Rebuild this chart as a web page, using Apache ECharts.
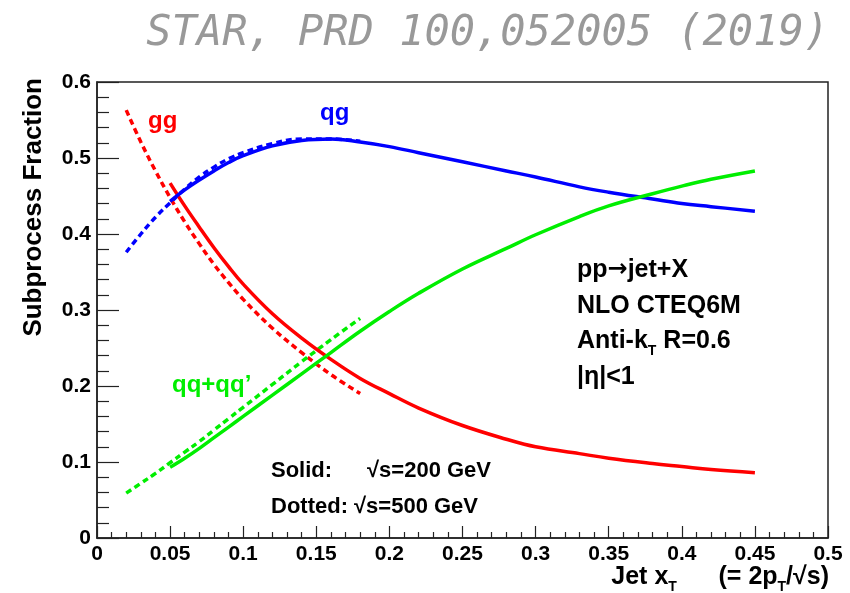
<!DOCTYPE html>
<html>
<head>
<meta charset="utf-8">
<script src="https://cdn.jsdelivr.net/npm/echarts@6/dist/echarts.min.js"></script>
<style>
  html, body { margin: 0; padding: 0; background: #fff; }
  #main { width: 850px; height: 593px; }
</style>
</head>
<body>
<div id="main"></div>
<script>
// sqrt(s) = 200 GeV curves (solid)
const x200 = [0.05, 0.06, 0.07, 0.08, 0.09, 0.10, 0.12, 0.14, 0.16, 0.18, 0.20, 0.22, 0.25, 0.28, 0.30, 0.33, 0.35, 0.38, 0.40, 0.42, 0.45]
const gg200 = [0.467, 0.437, 0.409, 0.382, 0.357, 0.334, 0.295, 0.263, 0.235, 0.210, 0.190, 0.171, 0.148, 0.130, 0.120, 0.111, 0.105, 0.098, 0.094, 0.090, 0.086]
const qg200 = [0.443, 0.458, 0.471, 0.483, 0.494, 0.503, 0.516, 0.523, 0.525, 0.521, 0.515, 0.507, 0.495, 0.483, 0.475, 0.462, 0.455, 0.446, 0.440, 0.436, 0.430]
const qq200 = [0.093, 0.105, 0.118, 0.132, 0.146, 0.160, 0.188, 0.216, 0.244, 0.272, 0.298, 0.322, 0.354, 0.381, 0.399, 0.423, 0.437, 0.453, 0.463, 0.472, 0.483]

// sqrt(s) = 500 GeV curves (dotted)
const x500 = [0.02, 0.03, 0.04, 0.05, 0.06, 0.07, 0.08, 0.09, 0.10, 0.12, 0.14, 0.16, 0.18]
const gg500 = [0.563, 0.521, 0.483, 0.448, 0.416, 0.387, 0.360, 0.336, 0.314, 0.276, 0.244, 0.215, 0.190]
const qg500 = [0.376, 0.400, 0.422, 0.441, 0.459, 0.475, 0.488, 0.499, 0.507, 0.519, 0.525, 0.525, 0.522]
const qq500 = [0.059, 0.072, 0.085, 0.099, 0.113, 0.127, 0.142, 0.157, 0.172, 0.202, 0.232, 0.261, 0.289]

const RED = '#ff0000'
const BLUE = '#0000ff'
const GREEN = '#00ee00'
const FONT = '"Liberation Sans", Arial, Helvetica, sans-serif'

const pairs = (xs, ys) => xs.map((x, i) => [x, ys[i]])

const curve = (name, xs, ys, color, dotted) => ({
  name,
  type: 'line',
  data: pairs(xs, ys),
  showSymbol: false,
  smooth: 0.4,
  silent: true,
  lineStyle: { color, width: 3.5, type: dotted ? [6, 4] : 'solid', cap: 'butt' },
  z: dotted ? 3 : 4
})

// text placed by its left edge and vertical middle
const txt = (x, y, text, opts = {}) => ({
  type: 'text',
  x, y,
  style: Object.assign({
    text,
    fill: '#000',
    font: 'bold 24px ' + FONT,
    textAlign: 'left',
    textVerticalAlign: 'middle'
  }, opts)
})

const subRich = {
  sub: { fontSize: 14, fontWeight: 'bold', fontFamily: FONT, lineHeight: 14, padding: [20, 0, 0, 0] },
  arr: { fontSize: 24, fontWeight: 'bold', fontFamily: '"DejaVu Sans", sans-serif' }
}

const option = {
  backgroundColor: '#fff',
  animation: false,
  grid: { left: 97, right: 22, top: 82, bottom: 55, show: true, borderColor: '#222', borderWidth: 1.5, backgroundColor: '#fff' },
  xAxis: {
    type: 'value',
    min: 0,
    max: 0.5,
    interval: 0.05,
    axisLine: { show: true, onZero: false, lineStyle: { color: '#222', width: 1.5 } },
    axisTick: { show: true, inside: true, length: 12, lineStyle: { color: '#222', width: 1.2 } },
    minorTick: { show: true, splitNumber: 5, length: 6, lineStyle: { color: '#222', width: 1.2 } },
    splitLine: { show: false },
    axisLabel: {
      color: '#000', fontFamily: FONT, fontWeight: 'bold', fontSize: 21, margin: 6,
      formatter: v => String(+v.toFixed(2))
    }
  },
  yAxis: {
    type: 'value',
    min: 0,
    max: 0.6,
    interval: 0.1,
    axisLine: { show: true, onZero: false, lineStyle: { color: '#222', width: 1.5 } },
    axisTick: { show: true, inside: true, length: 22, lineStyle: { color: '#222', width: 1.2 } },
    minorTick: { show: true, splitNumber: 5, length: 12, lineStyle: { color: '#222', width: 1.2 } },
    splitLine: { show: false },
    axisLabel: {
      color: '#000', fontFamily: FONT, fontWeight: 'bold', fontSize: 21, margin: 6,
      formatter: v => String(+v.toFixed(1))
    }
  },
  series: [
    curve('gg 500', x500, gg500, RED, true),
    curve('qg 500', x500, qg500, BLUE, true),
    curve('qq 500', x500, qq500, GREEN, true),
    curve('gg 200', x200, gg200, RED, false),
    curve('qg 200', x200, qg200, BLUE, false),
    curve('qq 200', x200, qq200, GREEN, false)
  ],
  graphic: [
    // header
    {
      type: 'text', x: 829, y: 34,
      style: { text: 'STAR, PRD 100,052005 (2019)', fill: '#999', font: 'italic 42px "DejaVu Sans Mono", monospace', textAlign: 'right', textVerticalAlign: 'middle' }
    },
    // y axis title
    {
      type: 'text', x: 34, y: 78, rotation: Math.PI / 2,
      style: { text: 'Subprocess Fraction', fill: '#000', font: 'bold 26px ' + FONT, textAlign: 'right', textVerticalAlign: 'middle' }
    },
    // x axis title
    {
      type: 'text', x: 829, y: 577,
      style: {
        text: 'Jet x{sub|T}      (= 2p{sub|T}/√s)',
        fill: '#000', font: 'bold 25px ' + FONT,
        textAlign: 'right', textVerticalAlign: 'middle',
        rich: subRich
      }
    },
    // curve labels
    txt(148, 121, 'gg', { fill: RED }),
    txt(320, 113, 'qg', { fill: BLUE }),
    txt(172, 385, 'qq+qq’', { fill: GREEN }),
    // process description
    txt(577, 270, 'pp{arr|→}jet+X', { font: 'bold 25px ' + FONT, rich: subRich }),
    txt(577, 306, 'NLO CTEQ6M', { font: 'bold 25px ' + FONT }),
    txt(577, 341, 'Anti-k{sub|T} R=0.6', { font: 'bold 25px ' + FONT, rich: subRich }),
    txt(577, 377, '|η|<1', { font: 'bold 25px ' + FONT }),
    // energy legend
    txt(271, 471, 'Solid:', { font: 'bold 22px ' + FONT }),
    txt(367, 471, '√s=200 GeV', { font: 'bold 22px ' + FONT }),
    txt(271, 507, 'Dotted:', { font: 'bold 22px ' + FONT }),
    txt(354, 507, '√s=500 GeV', { font: 'bold 22px ' + FONT })
  ]
}

const chart = echarts.init(document.getElementById('main'), null, { renderer: 'canvas' })
chart.setOption(option)
</script>
</body>
</html>
